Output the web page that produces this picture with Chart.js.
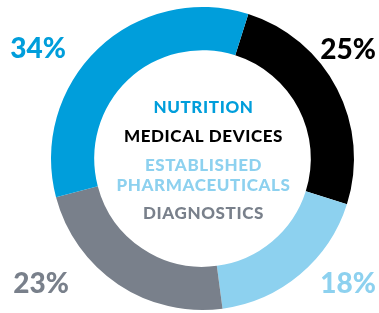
<!DOCTYPE html>
<html>
<head>
<meta charset="utf-8">
<script src="https://cdn.jsdelivr.net/npm/chart.js@4"></script>
<style>
  html, body { margin: 0; padding: 0; background: #fff; }
  #wrap { width: 379px; height: 313px; }
</style>
</head>
<body>
<div id="wrap"><canvas id="myChart" width="379" height="313"></canvas></div>
<script>
// data, clockwise from the black slice
var labels = ['MEDICAL DEVICES', 'ESTABLISHED PHARMACEUTICALS', 'DIAGNOSTICS', 'NUTRITION'];
var shares = [25, 18, 23, 34];
var colors = ['#000000', '#8dd1ef', '#79808b', '#009edb'];

// centre legend lines, top to bottom
var centreLines = [
    ['NUTRITION', 3],
    ['MEDICAL DEVICES', 0],
    ['ESTABLISHED', 1],
    ['PHARMACEUTICALS', 1],
    ['DIAGNOSTICS', 2]
];

var FONT = 'Lato, "Open Sans", sans-serif';

var textPlugin = {
    id: 'textPlugin',
    afterDraw: function (chart) {
        var c = chart.ctx;
        var meta = chart.getDatasetMeta(0).data[0];
        var cx = meta.x, cy = meta.y;
        c.save();
        c.textAlign = 'center';
        c.textBaseline = 'middle';
        c.font = '900 17px ' + FONT;
        c.letterSpacing = '0.6px';
        var ys = [-51, -22, 7.5, 27.5, 55];
        centreLines.forEach(function (l, i) {
            c.fillStyle = colors[l[1]];
            c.fillText(l[0], cx + 1, cy + ys[i]);
        });

        // corner percentages
        c.font = '900 28px ' + FONT;
        c.letterSpacing = '0px';
        var spots = [
            [348, 50, 0],
            [348, 284, 1],
            [41, 284, 2],
            [38, 49, 3]
        ];
        spots.forEach(function (s) {
            c.fillStyle = colors[s[2]];
            c.fillText(shares[s[2]] + '%', s[0], s[1]);
        });
        c.restore();
    }
};

var ctx = document.getElementById('myChart').getContext('2d');
var myChart = new Chart(ctx, {
    type: 'doughnut',
    data: {
        labels: labels,
        datasets: [{
            data: shares,
            backgroundColor: colors,
            borderWidth: 0
        }]
    },
    options: {
        responsive: false,
        animation: false,
        rotation: 17.6,
        cutout: '71.5%',
        layout: { padding: { left: 51, right: 25, top: 7, bottom: 3 } },
        plugins: {
            legend: { display: false },
            tooltip: { enabled: false }
        }
    },
    plugins: [textPlugin]
});
</script>
</body>
</html>
